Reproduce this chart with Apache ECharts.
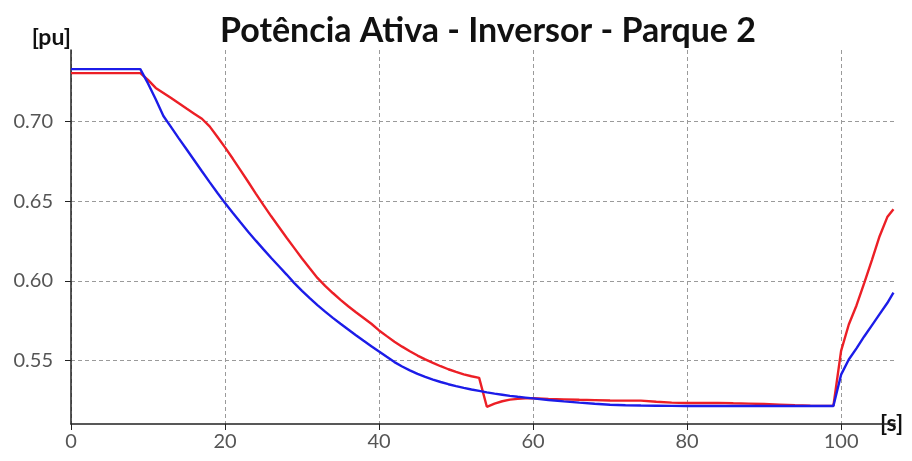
<!DOCTYPE html>
<html>
<head>
<meta charset="utf-8">
<title>Potência Ativa - Inversor - Parque 2</title>
<script src="https://cdn.jsdelivr.net/npm/echarts@6/dist/echarts.min.js"></script>
<style>
  html, body { margin: 0; padding: 0; background: #fff; }
  #chart { width: 912px; height: 461px; }
</style>
</head>
<body>
<div id="chart"></div>
<script>
// tempo [s]
const times = [
  0, 9,
  10, 11, 12, 13, 14, 15, 16, 17, 18, 19,
  20, 21, 22, 23, 24, 25, 26, 27, 28, 29,
  30, 31, 32, 33, 34, 35, 36, 37, 38, 39,
  40, 41, 42, 43, 44, 45, 46, 47, 48, 49,
  50, 51, 52, 53, 54, 55, 56, 57, 58, 59,
  60, 62, 64, 66, 68, 70, 72, 74, 76, 78,
  80, 82, 84, 86, 88, 90, 92, 94, 96, 98,
  99, 100, 101, 102, 103, 104, 105, 106, 106.8
]

// potência ativa [pu] - curva azul
const blueValues = [
  0.7330, 0.7330,
  0.7240, 0.7140, 0.7035, 0.6965, 0.6895, 0.6826, 0.6757, 0.6688, 0.6620, 0.6553,
  0.6488, 0.6427, 0.6367, 0.6308, 0.6252, 0.6197, 0.6143, 0.6091, 0.6039, 0.5985,
  0.5937, 0.5891, 0.5847, 0.5806, 0.5767, 0.5730, 0.5694, 0.5658, 0.5623, 0.5589,
  0.5556, 0.5522, 0.5489, 0.5461, 0.5437, 0.5415, 0.5396, 0.5379, 0.5364, 0.5350,
  0.5338, 0.5327, 0.5317, 0.5308, 0.5299, 0.5291, 0.5284, 0.5277, 0.5271, 0.5266,
  0.5261, 0.5251, 0.5242, 0.5234, 0.5227, 0.5221, 0.5218, 0.5216, 0.5215, 0.5214,
  0.5213, 0.5213, 0.5213, 0.5213, 0.5213, 0.5213, 0.5213, 0.5213, 0.5213, 0.5213,
  0.5213, 0.5410, 0.5505, 0.5575, 0.5650, 0.5720, 0.5790, 0.5860, 0.5925
]

// potência ativa [pu] - curva vermelha
const redValues = [
  0.7305, 0.7305,
  0.7262, 0.7212, 0.7180, 0.7148, 0.7115, 0.7082, 0.7050, 0.7018, 0.6970, 0.6905,
  0.6838, 0.6768, 0.6695, 0.6622, 0.6548, 0.6475, 0.6405, 0.6338, 0.6270, 0.6205,
  0.6140, 0.6078, 0.6018, 0.5968, 0.5923, 0.5880, 0.5840, 0.5802, 0.5766, 0.5730,
  0.5688, 0.5652, 0.5617, 0.5586, 0.5557, 0.5530, 0.5506, 0.5484, 0.5463, 0.5444,
  0.5427, 0.5412, 0.5400, 0.5390, 0.5208, 0.5228, 0.5243, 0.5253, 0.5258, 0.5261,
  0.5262, 0.5258, 0.5255, 0.5252, 0.5250, 0.5248, 0.5247, 0.5247, 0.5240, 0.5234,
  0.5232, 0.5232, 0.5233, 0.5230, 0.5228, 0.5226, 0.5222, 0.5218, 0.5215, 0.5214,
  0.5214, 0.5560, 0.5725, 0.5845, 0.5985, 0.6130, 0.6280, 0.6400, 0.6450
]

// marcas dos eixos
const xTicks = [0, 20, 40, 60, 80, 100]
const yTicks = [0.55, 0.60, 0.65, 0.70]

const toPairs = (vals) => times.map((t, i) => [t, vals[i]])

const FONT = 'Lato, "Open Sans", sans-serif'
const gridLine = { show: true, lineStyle: { color: '#9a9a9a', type: [4, 3], width: 1 } }

const chart = echarts.init(document.getElementById('chart'), null, { renderer: 'canvas' })

chart.setOption({
  backgroundColor: '#fff',
  animation: false,
  title: {
    text: 'Potência Ativa - Inversor - Parque 2',
    left: 483,
    textAlign: 'center',
    top: 9,
    textStyle: { fontFamily: FONT, fontWeight: 'bold', fontSize: 34, color: '#111' }
  },
  grid: { left: 71, right: 17, top: 50, bottom: 37, containLabel: false },
  xAxis: {
    type: 'value',
    min: 0,
    max: 107,
    name: '[s]',
    nameLocation: 'end',
    nameGap: -16,
    nameTextStyle: {
      fontFamily: FONT, fontWeight: 'bold', fontSize: 23, color: '#111',
      align: 'left', verticalAlign: 'middle', backgroundColor: '#fff', padding: [0, 2, 11, 1]
    },
    axisLine: { lineStyle: { color: '#222', width: 1.5 } },
    axisTick: { show: true, customValues: xTicks, length: 6, lineStyle: { color: '#222' } },
    axisLabel: { customValues: xTicks, margin: 8, fontFamily: FONT, fontSize: 20, color: '#555' },
    splitLine: gridLine
  },
  yAxis: {
    type: 'value',
    min: 0.51,
    max: 0.745,
    name: '[pu]',
    nameLocation: 'end',
    nameGap: 1,
    nameTextStyle: { fontFamily: FONT, fontWeight: 'bold', fontSize: 23, color: '#111', align: 'right' },
    axisLine: { show: true, lineStyle: { color: '#222', width: 1.5 } },
    axisTick: { show: true, customValues: yTicks, length: 6, lineStyle: { color: '#222' } },
    axisLabel: { customValues: yTicks, margin: 18, fontFamily: FONT, fontSize: 20, color: '#555', formatter: v => v.toFixed(2) },
    splitLine: gridLine
  },
  series: [
    {
      name: 'vermelho',
      type: 'line',
      data: toPairs(redValues),
      showSymbol: false,
      lineStyle: { color: '#ec1f26', width: 2.4 },
      z: 2
    },
    {
      name: 'azul',
      type: 'line',
      data: toPairs(blueValues),
      showSymbol: false,
      lineStyle: { color: '#1c1ce8', width: 2.4 },
      z: 3
    }
  ]
})
</script>
</body>
</html>
